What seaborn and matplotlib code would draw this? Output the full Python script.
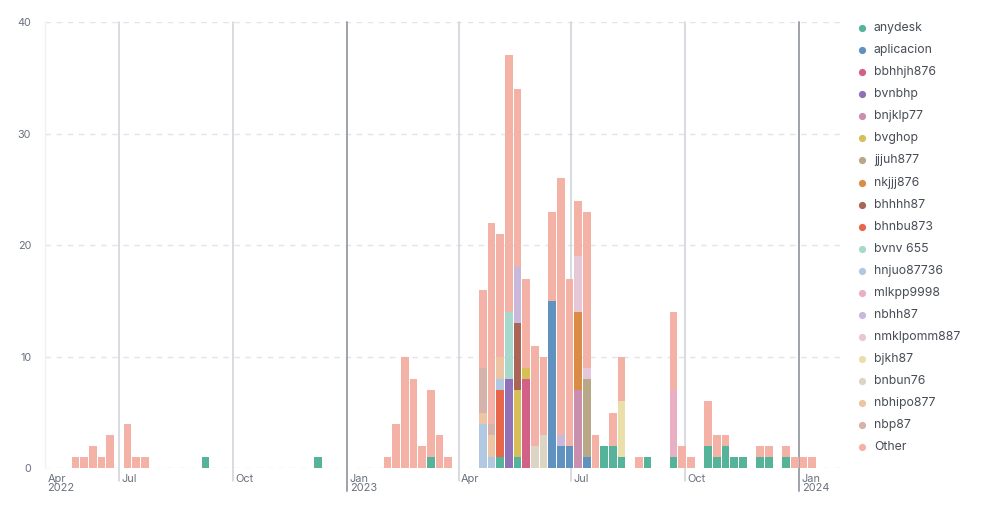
import numpy as np
import pandas as pd
import matplotlib
matplotlib.use("Agg")
import matplotlib.pyplot as plt
import matplotlib.dates as mdates
import matplotlib.transforms as mtransforms
from matplotlib.lines import Line2D
import seaborn as sns

# ---------------- data (weekly buckets, week start = Monday) ----------------
series_names = ["anydesk", "aplicacion", "bbhhjh876", "bvnbhp", "bnjklp77", "bvghop",
                "jjjuh877", "nkjjj876", "bhhhh87", "bhnbu873", "bvnv 655", "hnjuo87736",
                "mlkpp9998", "nbhh87", "nmklpomm887", "bjkh87", "bnbun76", "nbhipo877",
                "nbp87", "Other"]
series_colors = ["#54B399", "#6092C0", "#D36086", "#9170B8", "#CA8EAE", "#D6BF57",
                 "#B9A888", "#DA8B45", "#AA6556", "#E7664C", "#A6D9CB", "#B0C9E0",
                 "#E9AFC3", "#C8B8DC", "#E5C7D7", "#EADFAB", "#DCD5C4", "#EDC5A2",
                 "#D5B2AA", "#F3B2A5"]

anydesk = [("2022-09-05", 1), ("2022-12-05", 1), ("2023-03-06", 1), ("2023-05-01", 1),
           ("2023-05-15", 1), ("2023-07-24", 2), ("2023-07-31", 2), ("2023-08-07", 1),
           ("2023-08-28", 1), ("2023-09-18", 1), ("2023-10-16", 2), ("2023-10-23", 1),
           ("2023-10-30", 2), ("2023-11-06", 1), ("2023-11-13", 1), ("2023-11-27", 1),
           ("2023-12-04", 1), ("2023-12-18", 1)]
aplicacion = [("2023-06-12", 15), ("2023-06-19", 2), ("2023-06-26", 2), ("2023-07-10", 1)]
bbhhjh876 = [("2023-05-22", 8)]
bvnbhp = [("2023-05-08", 8)]
bnjklp77 = [("2023-07-03", 7)]
bvghop = [("2023-05-15", 6), ("2023-05-22", 1)]
jjjuh877 = [("2023-07-10", 7)]
nkjjj876 = [("2023-07-03", 7)]
bhhhh87 = [("2023-05-15", 6)]
bhnbu873 = [("2023-05-01", 6)]
bvnv_655 = [("2023-05-08", 6)]
hnjuo87736 = [("2023-04-17", 4), ("2023-04-24", 1), ("2023-05-01", 1)]
mlkpp9998 = [("2023-09-18", 6)]
nbhh87 = [("2023-05-15", 5), ("2023-06-19", 1)]
nmklpomm887 = [("2023-07-03", 5), ("2023-07-10", 1)]
bjkh87 = [("2023-08-07", 5)]
bnbun76 = [("2023-05-29", 2), ("2023-06-05", 3)]
nbhipo877 = [("2023-04-17", 1), ("2023-04-24", 2), ("2023-05-01", 2)]
nbp87 = [("2023-04-17", 4), ("2023-04-24", 1)]
other = [("2022-05-23", 1), ("2022-05-30", 1), ("2022-06-06", 2), ("2022-06-13", 1),
         ("2022-06-20", 3), ("2022-07-04", 4), ("2022-07-11", 1), ("2022-07-18", 1),
         ("2023-01-30", 1), ("2023-02-06", 4), ("2023-02-13", 10), ("2023-02-20", 8),
         ("2023-02-27", 2), ("2023-03-06", 6), ("2023-03-13", 3), ("2023-03-20", 1),
         ("2023-04-17", 7), ("2023-04-24", 18), ("2023-05-01", 11), ("2023-05-08", 23),
         ("2023-05-15", 16), ("2023-05-22", 8), ("2023-05-29", 9), ("2023-06-05", 7),
         ("2023-06-12", 8), ("2023-06-19", 23), ("2023-06-26", 15), ("2023-07-03", 5),
         ("2023-07-10", 14), ("2023-07-17", 3), ("2023-07-31", 3), ("2023-08-07", 4),
         ("2023-08-21", 1), ("2023-09-18", 7), ("2023-09-25", 2), ("2023-10-02", 1),
         ("2023-10-16", 4), ("2023-10-23", 2), ("2023-10-30", 1), ("2023-11-27", 1),
         ("2023-12-04", 1), ("2023-12-18", 1), ("2023-12-25", 1), ("2024-01-01", 1),
         ("2024-01-08", 1)]

series_data = [anydesk, aplicacion, bbhhjh876, bvnbhp, bnjklp77, bvghop, jjjuh877,
               nkjjj876, bhhhh87, bhnbu873, bvnv_655, hnjuo87736, mlkpp9998, nbhh87,
               nmklpomm887, bjkh87, bnbun76, nbhipo877, nbp87, other]

x_ticks = ["2022-05-02", "2022-07-01", "2022-10-01", "2023-01-01", "2023-04-01",
           "2023-07-01", "2023-10-01", "2024-01-01"]
x_tick_labels = ["Apr\n2022", "Jul", "Oct", "Jan\n2023", "Apr", "Jul", "Oct", "Jan\n2024"]
y_ticks = [0, 10, 20, 30, 40]
x_range = ("2022-05-02", "2024-02-03")
bucket_range = ("2022-05-23", "2024-01-15")

# ---------------- build table ----------------
rows = []
for name, pairs in zip(series_names, series_data):
    for wk, cnt in pairs:
        rows.append({"week": pd.Timestamp(wk), "series": name, "count": cnt})
df = pd.DataFrame(rows)
df["t"] = mdates.date2num(df["week"])
edges = [float(e) for e in mdates.date2num(pd.date_range(bucket_range[0], bucket_range[1], freq="7D"))]

# ---------------- style ----------------
sns.set_theme(style="white")
plt.rcParams["font.family"] = ["Inter", "DejaVu Sans"]

W, H = 999, 505
fig = plt.figure(figsize=(W / 100, H / 100), dpi=100)
ax_left, ax_right, ax_top, ax_bottom = 45, 840, 22, 468.3
ax = fig.add_axes([ax_left / W, 1 - ax_bottom / H, (ax_right - ax_left) / W,
                   (ax_bottom - ax_top) / H])

palette = dict(zip(series_names, series_colors))
sns.histplot(data=df, x="t", weights="count", hue="series",
             hue_order=list(reversed(series_names)), palette=palette,
             multiple="stack", bins=edges, shrink=0.885, alpha=1,
             linewidth=0, edgecolor="none", legend=False, ax=ax)

ax.set_xlim(mdates.date2num(pd.Timestamp(x_range[0])), mdates.date2num(pd.Timestamp(x_range[1])))
ax.set_ylim(0, 40)
ax.set_xlabel("")
ax.set_ylabel("")

# y grid
ax.set_yticks(y_ticks)
ax.set_yticklabels([str(v) for v in y_ticks])
ax.yaxis.grid(True, linestyle=(0, (4, 4)), color="#E1E4E8", linewidth=1)
ax.xaxis.grid(False)
ax.set_axisbelow(True)
for s in ["top", "right", "bottom"]:
    ax.spines[s].set_visible(False)
ax.spines["left"].set_color("#EEF0F3")
ax.spines["left"].set_linewidth(1)
ax.tick_params(axis="y", length=0, pad=10, labelsize=7.8, labelcolor="#6A717D")

# vertical time gridlines
trans = mtransforms.blended_transform_factory(ax.transData, ax.transAxes)
px_to_ax = lambda p: (ax_bottom - p) / (ax_bottom - ax_top)
for d, lab in zip(x_ticks[1:], x_tick_labels[1:]):
    xv = mdates.date2num(pd.Timestamp(d))
    if lab.startswith("Jan"):
        ax.plot([xv, xv], [px_to_ax(491), 1], transform=trans, color="#9EA3AB",
                lw=1.4, clip_on=False, zorder=0.8)
    else:
        ax.plot([xv, xv], [px_to_ax(481), 1], transform=trans, color="#CDD1D6",
                lw=1.1, clip_on=False, zorder=0.8)

# x tick labels, left aligned after the gridline
ax.set_xticks(mdates.date2num(pd.to_datetime(x_ticks)))
ax.set_xticklabels(x_tick_labels)
ax.tick_params(axis="x", length=0, pad=4, labelsize=7.9, labelcolor="#6A717D")
offset = mtransforms.ScaledTranslation(2.5 / 100, 0, fig.dpi_scale_trans)
for lab in ax.get_xticklabels():
    lab.set_horizontalalignment("left")
    lab.set_verticalalignment("top")
    lab.set_linespacing(0.92)
    lab.set_transform(lab.get_transform() + offset)

# legend (manual, vertical list of dots)
leg_y0, leg_dy = 28.3, 22.03
for i, (name, col) in enumerate(zip(series_names, series_colors)):
    yy = 1 - (leg_y0 + i * leg_dy) / H
    fig.add_artist(Line2D([861.7 / W], [yy], marker="o", markersize=5.2,
                          color=col, markeredgewidth=0, linestyle="none",
                          transform=fig.transFigure))
    fig.text(874 / W, yy, name, fontsize=8.8, color="#474C55", va="center", ha="left")

fig.savefig("out.png", dpi=100, facecolor="white")
